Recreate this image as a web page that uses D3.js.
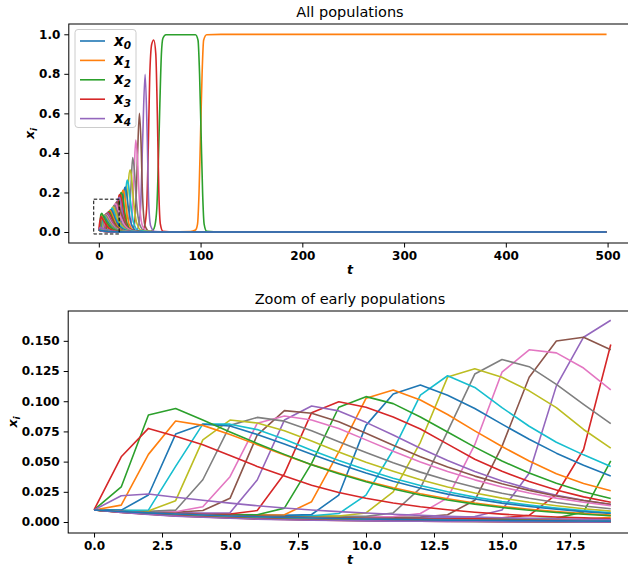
<!DOCTYPE html>
<html>
<head>
<meta charset="utf-8">
<script src="https://cdn.jsdelivr.net/npm/d3@7"></script>
<style>
  body { margin: 0; background: #fff; }
  text { font-family: "DejaVu Sans", sans-serif; }
</style>
</head>
<body>
<div id="chart"></div>
<script>
// matplotlib tab10, population x_i gets colour i % 10
const tab10 = ["#1f77b4", "#ff7f0e", "#2ca02c", "#d62728", "#9467bd",
               "#8c564b", "#e377c2", "#7f7f7f", "#bcbd22", "#17becf"];

const zoomT = [0, 1, 2, 3, 4, 5, 6, 7, 8, 9, 10, 11, 12, 13, 14, 15, 16, 17, 18, 19];

// populations that only decay (a few of them stand for the whole bundle)
const bandIndex = [35, 36, 37, 38, 39, 41, 42, 43, 44, 0];
const bandValues = [
  [0.010, 0.0089, 0.0079, 0.0070, 0.0062, 0.0055, 0.0049, 0.0043, 0.0038, 0.0034, 0.0030, 0.0026, 0.0023, 0.0020, 0.0018, 0.0016, 0.0014, 0.0012, 0.0011, 0.0010],
  [0.010, 0.0086, 0.0074, 0.0064, 0.0055, 0.0047, 0.0041, 0.0035, 0.0030, 0.0026, 0.0022, 0.0019, 0.0016, 0.0014, 0.0012, 0.0010, 0.0009, 0.0008, 0.0007, 0.0006],
  [0.010, 0.0085, 0.0072, 0.0061, 0.0052, 0.0044, 0.0037, 0.0032, 0.0027, 0.0023, 0.0019, 0.0016, 0.0014, 0.0012, 0.0010, 0.0008, 0.0007, 0.0006, 0.0005, 0.0004],
  [0.010, 0.0084, 0.0071, 0.0059, 0.0050, 0.0042, 0.0035, 0.0030, 0.0025, 0.0021, 0.0018, 0.0015, 0.0012, 0.0010, 0.0009, 0.0007, 0.0006, 0.0005, 0.0004, 0.0004],
  [0.010, 0.0083, 0.0069, 0.0057, 0.0047, 0.0039, 0.0033, 0.0027, 0.0023, 0.0019, 0.0016, 0.0013, 0.0011, 0.0009, 0.0007, 0.0006, 0.0005, 0.0004, 0.0003, 0.0003],
  [0.010, 0.0082, 0.0067, 0.0055, 0.0045, 0.0037, 0.0030, 0.0025, 0.0020, 0.0017, 0.0014, 0.0011, 0.0009, 0.0007, 0.0006, 0.0005, 0.0004, 0.0003, 0.0003, 0.0002],
  [0.010, 0.0081, 0.0066, 0.0053, 0.0043, 0.0035, 0.0028, 0.0023, 0.0019, 0.0015, 0.0012, 0.0010, 0.0008, 0.0006, 0.0005, 0.0004, 0.0003, 0.0003, 0.0002, 0.0002],
  [0.010, 0.0080, 0.0064, 0.0051, 0.0041, 0.0033, 0.0026, 0.0021, 0.0017, 0.0013, 0.0011, 0.0009, 0.0007, 0.0005, 0.0004, 0.0003, 0.0003, 0.0002, 0.0002, 0.0001],
  [0.010, 0.0079, 0.0062, 0.0049, 0.0039, 0.0031, 0.0024, 0.0019, 0.0015, 0.0012, 0.0009, 0.0007, 0.0006, 0.0005, 0.0004, 0.0003, 0.0002, 0.0002, 0.0001, 0.0001],
  [0.010, 0.0087, 0.0076, 0.0066, 0.0058, 0.0050, 0.0044, 0.0038, 0.0033, 0.0029, 0.0025, 0.0022, 0.0019, 0.0016, 0.0014, 0.0012, 0.0011, 0.0009, 0.0008, 0.0007]
];

// populations x_34 ... x_1 for t = 0..19
const popIndex = [34, 33, 32, 31, 30, 29, 28, 27, 26, 25, 24, 23, 22, 21, 20, 19, 18, 17, 16, 15, 14, 13, 12, 11, 10, 9, 8, 7, 6, 5, 4, 3, 2, 1];
const popValues = [
  [0.010, 0.0218, 0.0232, 0.0205, 0.0180, 0.0156, 0.0135, 0.0116, 0.0100, 0.0086, 0.0074, 0.0064, 0.0055, 0.0047, 0.0041, 0.0035, 0.0030, 0.0026, 0.0023, 0.0020],
  [0.010, 0.054, 0.0775, 0.071, 0.064, 0.055, 0.046, 0.038, 0.0305, 0.0245, 0.0196, 0.0157, 0.0126, 0.0101, 0.0081, 0.0065, 0.0052, 0.0042, 0.0034, 0.0027],
  [0.010, 0.029, 0.0886, 0.094, 0.0844, 0.0745, 0.065, 0.056, 0.0475, 0.040, 0.0333, 0.0274, 0.0224, 0.0182, 0.0148, 0.012, 0.0097, 0.0079, 0.0064, 0.0052],
  [0.010, 0.014, 0.056, 0.0836, 0.080, 0.0725, 0.064, 0.0555, 0.0475, 0.0405, 0.034, 0.0283, 0.0234, 0.0193, 0.0158, 0.0129, 0.0105, 0.0086, 0.0070, 0.0057],
  [0.010, 0.0098, 0.0224, 0.0728, 0.081, 0.0795, 0.0725, 0.0645, 0.056, 0.048, 0.0405, 0.0338, 0.028, 0.0231, 0.019, 0.0156, 0.0128, 0.0105, 0.0086, 0.0070],
  [0.010, 0.0096, 0.0099, 0.046, 0.081, 0.081, 0.0765, 0.0685, 0.0595, 0.051, 0.0432, 0.0362, 0.0302, 0.025, 0.0206, 0.017, 0.014, 0.0115, 0.0094, 0.0077],
  [0.010, 0.0094, 0.0092, 0.0177, 0.068, 0.0844, 0.082, 0.0755, 0.067, 0.058, 0.0495, 0.042, 0.035, 0.029, 0.024, 0.0198, 0.0163, 0.0134, 0.011, 0.009],
  [0.010, 0.0093, 0.0088, 0.0098, 0.035, 0.080, 0.0866, 0.0835, 0.0755, 0.0665, 0.0575, 0.049, 0.0413, 0.0345, 0.0287, 0.0238, 0.0197, 0.0162, 0.0133, 0.011],
  [0.010, 0.0092, 0.0086, 0.0085, 0.0127, 0.0375, 0.0817, 0.0877, 0.0844, 0.0775, 0.068, 0.0585, 0.0497, 0.0418, 0.0349, 0.029, 0.024, 0.0198, 0.0163, 0.0134],
  [0.010, 0.0091, 0.0084, 0.0081, 0.0095, 0.0196, 0.072, 0.0922, 0.090, 0.083, 0.0735, 0.0635, 0.054, 0.0455, 0.038, 0.0316, 0.0262, 0.0216, 0.0178, 0.0147],
  [0.010, 0.0090, 0.0082, 0.0077, 0.0074, 0.0077, 0.0348, 0.0844, 0.096, 0.092, 0.0825, 0.072, 0.061, 0.051, 0.0418, 0.034, 0.0275, 0.0222, 0.0179, 0.0144],
  [0.010, 0.0090, 0.0081, 0.0074, 0.0069, 0.0066, 0.0095, 0.040, 0.0905, 0.0996, 0.095, 0.087, 0.077, 0.0645, 0.052, 0.042, 0.0335, 0.0265, 0.0208, 0.0163],
  [0.010, 0.0089, 0.0080, 0.0072, 0.0066, 0.0062, 0.0060, 0.0115, 0.0486, 0.095, 0.1038, 0.098, 0.087, 0.0745, 0.062, 0.0505, 0.0405, 0.032, 0.025, 0.0195],
  [0.010, 0.0089, 0.0080, 0.0072, 0.0066, 0.0061, 0.0058, 0.0060, 0.0168, 0.058, 0.1024, 0.1093, 0.101, 0.089, 0.0755, 0.0625, 0.0505, 0.040, 0.0318, 0.0258],
  [0.010, 0.0089, 0.0080, 0.0072, 0.0065, 0.0060, 0.0057, 0.0055, 0.0062, 0.0223, 0.080, 0.106, 0.1134, 0.105, 0.094, 0.081, 0.0685, 0.057, 0.047, 0.038],
  [0.010, 0.0089, 0.0080, 0.0072, 0.0065, 0.0060, 0.0056, 0.0053, 0.0052, 0.0070, 0.0223, 0.0596, 0.105, 0.1211, 0.1114, 0.0947, 0.0793, 0.066, 0.0556, 0.0459],
  [0.010, 0.0089, 0.0080, 0.0072, 0.0065, 0.0059, 0.0055, 0.0052, 0.0050, 0.0050, 0.0075, 0.025, 0.066, 0.120, 0.1268, 0.1198, 0.1086, 0.0947, 0.0766, 0.0612],
  [0.010, 0.0089, 0.0080, 0.0072, 0.0065, 0.0059, 0.0054, 0.0051, 0.0049, 0.0047, 0.0047, 0.0075, 0.028, 0.075, 0.1225, 0.1345, 0.1286, 0.114, 0.0974, 0.0815],
  [0.010, 0.0089, 0.0080, 0.0072, 0.0065, 0.0059, 0.0054, 0.0050, 0.0047, 0.0045, 0.0044, 0.0045, 0.0070, 0.020, 0.064, 0.124, 0.1426, 0.140, 0.1275, 0.1094],
  [0.010, 0.0089, 0.0080, 0.0072, 0.0065, 0.0059, 0.0054, 0.0050, 0.0046, 0.0043, 0.0041, 0.0040, 0.0042, 0.0060, 0.018, 0.0626, 0.1198, 0.1498, 0.153, 0.1426],
  [0.010, 0.0089, 0.0080, 0.0072, 0.0065, 0.0059, 0.0053, 0.0049, 0.0045, 0.0042, 0.0039, 0.0037, 0.0036, 0.0038, 0.0045, 0.0100, 0.0403, 0.1127, 0.153, 0.167],
  [0.010, 0.0089, 0.0080, 0.0072, 0.0065, 0.0059, 0.0053, 0.0048, 0.0044, 0.0041, 0.0038, 0.0035, 0.0033, 0.0032, 0.0032, 0.0035, 0.0055, 0.0228, 0.060, 0.147],
  [0.010, 0.0089, 0.0080, 0.0072, 0.0065, 0.0058, 0.0053, 0.0048, 0.0044, 0.0040, 0.0037, 0.0034, 0.0031, 0.0029, 0.0027, 0.0026, 0.0026, 0.0032, 0.0083, 0.0507],
  [0.010, 0.0089, 0.0080, 0.0072, 0.0064, 0.0058, 0.0053, 0.0048, 0.0043, 0.0039, 0.0036, 0.0033, 0.0030, 0.0027, 0.0025, 0.0023, 0.0022, 0.0021, 0.0023, 0.0040],
  [0.010, 0.0089, 0.0080, 0.0071, 0.0064, 0.0058, 0.0052, 0.0047, 0.0043, 0.0039, 0.0035, 0.0032, 0.0029, 0.0026, 0.0024, 0.0022, 0.0020, 0.0018, 0.0017, 0.0017],
  [0.010, 0.0089, 0.0079, 0.0071, 0.0064, 0.0057, 0.0052, 0.0047, 0.0042, 0.0038, 0.0035, 0.0031, 0.0028, 0.0026, 0.0023, 0.0021, 0.0019, 0.0017, 0.0016, 0.0015],
  [0.010, 0.0089, 0.0079, 0.0071, 0.0063, 0.0057, 0.0051, 0.0046, 0.0042, 0.0038, 0.0034, 0.0031, 0.0028, 0.0025, 0.0023, 0.0020, 0.0018, 0.0017, 0.0015, 0.0014],
  [0.010, 0.0088, 0.0079, 0.0070, 0.0063, 0.0056, 0.0051, 0.0046, 0.0041, 0.0037, 0.0033, 0.0030, 0.0027, 0.0024, 0.0022, 0.0020, 0.0018, 0.0016, 0.0014, 0.0013],
  [0.010, 0.0088, 0.0078, 0.0070, 0.0062, 0.0056, 0.0050, 0.0045, 0.0041, 0.0037, 0.0033, 0.0030, 0.0027, 0.0024, 0.0021, 0.0019, 0.0017, 0.0015, 0.0014, 0.0012],
  [0.010, 0.0088, 0.0078, 0.0069, 0.0062, 0.0055, 0.0050, 0.0045, 0.0040, 0.0036, 0.0032, 0.0029, 0.0026, 0.0023, 0.0021, 0.0019, 0.0017, 0.0015, 0.0013, 0.0012],
  [0.010, 0.0088, 0.0078, 0.0069, 0.0061, 0.0055, 0.0049, 0.0044, 0.0040, 0.0036, 0.0032, 0.0029, 0.0026, 0.0023, 0.0020, 0.0018, 0.0016, 0.0014, 0.0013, 0.0011],
  [0.010, 0.0088, 0.0077, 0.0069, 0.0061, 0.0054, 0.0049, 0.0044, 0.0039, 0.0035, 0.0031, 0.0028, 0.0025, 0.0022, 0.0020, 0.0018, 0.0016, 0.0014, 0.0012, 0.0011],
  [0.010, 0.0087, 0.0077, 0.0068, 0.0060, 0.0054, 0.0048, 0.0043, 0.0039, 0.0035, 0.0031, 0.0028, 0.0025, 0.0022, 0.0019, 0.0017, 0.0015, 0.0014, 0.0012, 0.0011],
  [0.010, 0.0087, 0.0077, 0.0068, 0.0060, 0.0053, 0.0048, 0.0043, 0.0038, 0.0034, 0.0030, 0.0027, 0.0024, 0.0022, 0.0019, 0.0017, 0.0015, 0.0013, 0.0012, 0.0010]
];

// after t = 19: fading tails of x_34 ... x_15
const fadeT = [22, 26, 32, 45, 499];
const fadeValues = [
  [0.0013, 0.0007, 0.0002, 0, 0],
  [0.0015, 0.0006, 0.0002, 0, 0],
  [0.0028, 0.0012, 0.0003, 0, 0],
  [0.0031, 0.0013, 0.0003, 0, 0],
  [0.0038, 0.0016, 0.0004, 0, 0],
  [0.0042, 0.0018, 0.0005, 0, 0],
  [0.0050, 0.0021, 0.0006, 0, 0],
  [0.0060, 0.0025, 0.0007, 0, 0],
  [0.0073, 0.0030, 0.0008, 0, 0],
  [0.0081, 0.0034, 0.0009, 0, 0],
  [0.0078, 0.0032, 0.0009, 0, 0],
  [0.0088, 0.0036, 0.0010, 0, 0],
  [0.0105, 0.0043, 0.0012, 0, 0],
  [0.0135, 0.0055, 0.0015, 0, 0],
  [0.021, 0.0085, 0.0022, 0, 0],
  [0.026, 0.011, 0.003, 0, 0],
  [0.035, 0.015, 0.004, 0, 0],
  [0.048, 0.020, 0.0055, 0.0001, 0],
  [0.068, 0.029, 0.008, 0.0002, 0],
  [0.095, 0.042, 0.012, 0.0003, 0]
];

// after t = 19: [t, value] of x_14 ... x_1
const risePoints = [
  [[20, 0.174], [21, 0.165], [22, 0.135], [24, 0.075], [27, 0.025], [32, 0.004], [45, 0], [499, 0]],
  [[20, 0.186], [21, 0.19], [22, 0.172], [24, 0.105], [27, 0.037], [32, 0.006], [45, 0], [499, 0]],
  [[20, 0.13], [21, 0.185], [22, 0.2], [23, 0.19], [25, 0.115], [28, 0.038], [33, 0.006], [47, 0], [499, 0]],
  [[20, 0.015], [21, 0.06], [22, 0.145], [23, 0.2], [24, 0.212], [25, 0.195], [27, 0.115], [30, 0.036], [35, 0.005], [50, 0], [499, 0]],
  [[20, 0.003], [21, 0.008], [22, 0.03], [23, 0.09], [24, 0.17], [25, 0.215], [26, 0.228], [27, 0.205], [29, 0.125], [32, 0.04], [37, 0.006], [52, 0], [499, 0]],
  [[21, 0.003], [23, 0.008], [24, 0.03], [25, 0.08], [26, 0.16], [27, 0.235], [28, 0.263], [29, 0.245], [31, 0.16], [34, 0.05], [39, 0.007], [55, 0], [499, 0]],
  [[22, 0.002], [25, 0.008], [26, 0.025], [27, 0.07], [28, 0.15], [29, 0.245], [30.7, 0.314], [32, 0.285], [34, 0.165], [37, 0.05], [42, 0.007], [58, 0], [499, 0]],
  [[23, 0.002], [27, 0.008], [28.5, 0.03], [30, 0.09], [31.5, 0.22], [33.3, 0.376], [35, 0.31], [37, 0.155], [40, 0.04], [45, 0.005], [60, 0], [499, 0]],
  [[24, 0.002], [30, 0.008], [31.5, 0.03], [33, 0.1], [34.5, 0.27], [36.3, 0.465], [38, 0.37], [40, 0.15], [43, 0.03], [48, 0.003], [62, 0], [499, 0]],
  [[25, 0.002], [33, 0.008], [35, 0.04], [36.5, 0.15], [38, 0.38], [39.9, 0.60], [41.5, 0.45], [43, 0.18], [45.5, 0.03], [50, 0.002], [65, 0], [499, 0]],
  [[26, 0.002], [37, 0.008], [39, 0.03], [41, 0.12], [43, 0.45], [45.5, 0.797], [47.5, 0.5], [49, 0.15], [51, 0.03], [55, 0.002], [70, 0], [499, 0]],
  [[27, 0.002], [43, 0.008], [45, 0.03], [47, 0.12], [48.5, 0.4], [50, 0.78], [52, 0.95], [54, 0.971], [56, 0.9], [57.5, 0.6], [59, 0.2], [60.5, 0.04], [63, 0.004], [75, 0], [499, 0]],
  [[28, 0.002], [50, 0.003], [53, 0.008], [55, 0.03], [57, 0.12], [58.5, 0.35], [60, 0.65], [61.5, 0.9], [63, 0.98], [66, 0.998], [95, 0.998], [97.5, 0.97], [99, 0.8], [100.5, 0.5], [102, 0.2], [103.5, 0.04], [106, 0.004], [120, 0], [499, 0]],
  [[30, 0.0015], [60, 0.0012], [90, 0.002], [95, 0.01], [97, 0.04], [98.5, 0.2], [100, 0.5], [101.5, 0.8], [103, 0.97], [106, 0.998], [120, 0.9995], [499, 0.9995]]
];

const legendIndex = [0, 1, 2, 3, 4];
const topXTicks = [0, 100, 200, 300, 400, 500];
const topYTicks = [0, 0.2, 0.4, 0.6, 0.8, 1.0];
const zoomXTicks = [0, 2.5, 5, 7.5, 10, 12.5, 15, 17.5];
const zoomYTicks = [0, 0.025, 0.05, 0.075, 0.1, 0.125, 0.15];
const zoomBox = {t0: -5, t1: 20, v0: -0.01, v1: 0.166};

// ---- build series ----
let series = [];
bandIndex.forEach((idx, k) => {
  let pts = zoomT.map((t, j) => [t, bandValues[k][j]]);
  series.push({i: idx, zoom: pts, top: pts.concat([[30, 0.0001], [499, 0]])});
});
popIndex.forEach((idx, k) => {
  let pts = zoomT.map((t, j) => [t, popValues[k][j]]);
  let extra;
  if (k < fadeValues.length) {
    extra = fadeT.map((t, j) => [t, fadeValues[k][j]]);
  } else {
    extra = risePoints[k - fadeValues.length];
  }
  series.push({i: idx, zoom: pts, top: pts.concat(extra)});
});
// matplotlib order: low index first, x_0 ends on top of the bundle
series.sort((a, b) => (a.i === 0) - (b.i === 0) || a.i - b.i);

const W = 628, H = 566;
const svg = d3.select("#chart").append("svg")
  .attr("width", W).attr("height", H)
  .style("font-family", "DejaVu Sans, sans-serif");

function panel(opt) {
  const x = d3.scaleLinear().domain(opt.xDom).range([opt.left, opt.right]);
  const y = d3.scaleLinear().domain(opt.yDom).range([opt.bottom, opt.top]);

  svg.append("clipPath").attr("id", opt.id)
    .append("rect").attr("x", opt.left).attr("y", opt.top)
    .attr("width", opt.right - opt.left).attr("height", opt.bottom - opt.top);

  const g = svg.append("g").attr("clip-path", `url(#${opt.id})`);
  const line = d3.line().x(d => x(d[0])).y(d => y(d[1])).curve(opt.curve);

  g.selectAll("path.pop")
    .data(series)
    .enter().append("path")
    .attr("class", "pop")
    .attr("d", d => line(d[opt.key]))
    .attr("fill", "none")
    .attr("stroke", d => tab10[d.i % 10])
    .attr("stroke-width", 1.6)
    .attr("stroke-linejoin", "round");

  // axes
  const xa = svg.append("g").attr("transform", `translate(0,${opt.bottom})`)
    .call(d3.axisBottom(x).tickValues(opt.xTicks).tickFormat(opt.xFmt).tickSize(4.5).tickPadding(4));
  const ya = svg.append("g").attr("transform", `translate(${opt.left},0)`)
    .call(d3.axisLeft(y).tickValues(opt.yTicks).tickFormat(opt.yFmt).tickSize(4.5).tickPadding(4));
  [xa, ya].forEach(a => {
    a.select(".domain").remove();
    a.selectAll("line").attr("stroke", "#000").attr("stroke-width", 1);
    a.selectAll("text").attr("fill", "#000")
      .style("font-size", "12px").style("font-weight", "bold")
      .style("font-family", "DejaVu Sans, sans-serif");
  });

  svg.append("rect")
    .attr("x", opt.left).attr("y", opt.top)
    .attr("width", opt.right - opt.left).attr("height", opt.bottom - opt.top)
    .attr("fill", "none").attr("stroke", "#000").attr("stroke-width", 1);

  svg.append("text")
    .attr("x", 350).attr("y", opt.top - 7)
    .attr("text-anchor", "middle")
    .style("font-size", "14.5px")
    .text(opt.title);

  svg.append("text")
    .attr("x", 350).attr("y", opt.bottom + 31)
    .attr("text-anchor", "middle")
    .style("font-size", "12.5px").style("font-weight", "bold").style("font-style", "italic")
    .text("t");

  const yl = svg.append("text")
    .attr("transform", `translate(${opt.ylabX},${(opt.top + opt.bottom) / 2}) rotate(-90)`)
    .attr("text-anchor", "middle")
    .style("font-size", "12.5px").style("font-weight", "bold").style("font-style", "italic");
  yl.append("tspan").text("x");
  yl.append("tspan").attr("dy", 3).style("font-size", "9px").text("i");

  return {x, y};
}

const topPanel = panel({
  id: "clipTop", key: "top", curve: d3.curveMonotoneX,
  left: 68.8, right: 632, top: 24, bottom: 243,
  xDom: [-29.5, 524], yDom: [-0.0556, 1.052],
  xTicks: topXTicks, yTicks: topYTicks,
  xFmt: d3.format("d"), yFmt: d3.format(".1f"),
  title: "All populations", ylabX: 34
});

panel({
  id: "clipZoom", key: "zoom", curve: d3.curveLinear,
  left: 68.2, right: 636.6, top: 311, bottom: 533,
  xDom: [-0.95, 19.95], yDom: [-0.0091, 0.1747],
  xTicks: zoomXTicks, yTicks: zoomYTicks,
  xFmt: d3.format(".1f"), yFmt: d3.format(".3f"),
  title: "Zoom of early populations", ylabX: 17
});

// dashed box showing the zoomed region
svg.append("rect")
  .attr("x", topPanel.x(zoomBox.t0)).attr("y", topPanel.y(zoomBox.v1))
  .attr("width", topPanel.x(zoomBox.t1) - topPanel.x(zoomBox.t0))
  .attr("height", topPanel.y(zoomBox.v0) - topPanel.y(zoomBox.v1))
  .attr("fill", "none").attr("stroke", "#000")
  .attr("stroke-width", 1).attr("stroke-dasharray", "3.5,2");

// legend
const lg = svg.append("g");
lg.append("rect")
  .attr("x", 75).attr("y", 29.5).attr("width", 61).attr("height", 98)
  .attr("rx", 3).attr("fill", "#fff").attr("fill-opacity", 0.8)
  .attr("stroke", "#ccc").attr("stroke-width", 1);
legendIndex.forEach((idx, k) => {
  const yy = 41 + k * 19.4;
  lg.append("line").attr("x1", 80).attr("x2", 105).attr("y1", yy).attr("y2", yy)
    .attr("stroke", tab10[idx % 10]).attr("stroke-width", 1.6);
  const tx = lg.append("text").attr("x", 114).attr("y", yy + 4.5)
    .style("font-size", "15px").style("font-weight", "bold").style("font-style", "italic");
  tx.append("tspan").text("x");
  tx.append("tspan").attr("dy", 3).style("font-size", "10.5px").text(idx);
});
</script>
</body>
</html>
